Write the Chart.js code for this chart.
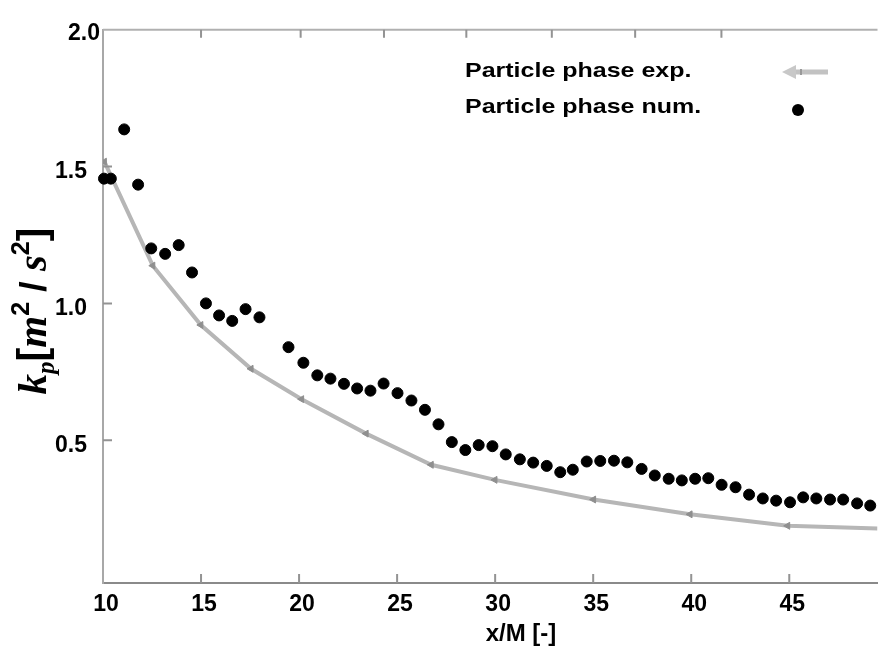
<!DOCTYPE html>
<html>
<head>
<meta charset="utf-8">
<script src="https://cdn.jsdelivr.net/npm/chart.js@4.4.1/dist/chart.umd.min.js"></script>
<style>
  body { margin: 0; background: #fff; }
  canvas { display: block; }
</style>
</head>
<body>
<canvas id="myChart" width="884" height="648"></canvas>
<script>
// particle phase, experiment (grey line with arrow markers)
const expX = [10.07, 12.54, 14.99, 17.55, 20.13, 23.42, 26.74, 29.99, 35.02, 39.94, 44.92, 49.5];
const expY = [1.518, 1.138, 0.921, 0.761, 0.650, 0.524, 0.410, 0.355, 0.283, 0.229, 0.187, 0.177];

// particle phase, numerical (black dots)
const numX = [10.05, 10.40, 11.08, 11.79, 12.46, 13.17, 13.86, 14.54, 15.25, 15.92,
              16.59, 17.27, 17.98, 19.46, 20.22, 20.93, 21.60, 22.29, 22.96, 23.64,
              24.31, 25.02, 25.73, 26.42, 27.11, 27.79, 28.48, 29.16, 29.86, 30.54,
              31.26, 31.94, 32.63, 33.32, 33.96, 34.67, 35.36, 36.06, 36.74, 37.47,
              38.14, 38.85, 39.52, 40.20, 40.87, 41.55, 42.26, 42.95, 43.65, 44.33,
              45.04, 45.71, 46.38, 47.08, 47.75, 48.46, 49.13];
const numY = [1.456, 1.456, 1.636, 1.434, 1.201, 1.181, 1.213, 1.113, 1.000, 0.956,
              0.936, 0.979, 0.949, 0.840, 0.783, 0.737, 0.725, 0.706, 0.689, 0.681,
              0.707, 0.672, 0.645, 0.611, 0.558, 0.493, 0.464, 0.482, 0.478, 0.448,
              0.430, 0.418, 0.406, 0.383, 0.392, 0.422, 0.424, 0.425, 0.419, 0.395,
              0.371, 0.359, 0.353, 0.359, 0.361, 0.337, 0.328, 0.301, 0.287, 0.279,
              0.273, 0.291, 0.287, 0.283, 0.283, 0.269, 0.261];

const xTicks = [10, 15, 20, 25, 30, 35, 40, 45];
const yTicks = [0.5, 1.0, 1.5, 2.0];
// the top frame of the original has its own (slightly off) tick marks
const topTicks = [15.0, 20.08, 24.33, 28.53, 32.89, 37.14, 41.54];
const legendLabels = ['Particle phase exp.', 'Particle phase num.'];

const tickFont = { family: 'Liberation Sans, Arial, sans-serif', size: 23, weight: 'bold' };

// inward tick marks, top frame line, axis titles, legend
const decor = {
    id: 'decor',
    afterDraw(chart) {
        const ctx = chart.ctx;
        const a = chart.chartArea;
        const xs = chart.scales.x, ys = chart.scales.y;
        ctx.save();

        ctx.strokeStyle = '#b0b0b0';
        ctx.lineWidth = 2;
        ctx.beginPath();
        ctx.moveTo(a.left, a.top);
        ctx.lineTo(a.right, a.top);
        ctx.stroke();

        ctx.strokeStyle = '#939393';
        ctx.beginPath();
        xTicks.forEach(v => {
            if (v === 10) return;
            const px = xs.getPixelForValue(v);
            ctx.moveTo(px, a.bottom);
            ctx.lineTo(px, a.bottom - 9);
        });
        topTicks.forEach(v => {
            const px = xs.getPixelForValue(v);
            ctx.moveTo(px, a.top);
            ctx.lineTo(px, a.top + 8);
        });
        yTicks.forEach(v => {
            if (v === 2.0) return;
            const py = ys.getPixelForValue(v);
            ctx.moveTo(a.left, py);
            ctx.lineTo(a.left + 9, py);
        });
        ctx.stroke();

        // "2.0" sits closer to the axis than the other labels in the original
        ctx.fillStyle = '#000';
        ctx.font = 'bold 23px "Liberation Sans", Arial, sans-serif';
        ctx.textAlign = 'right';
        ctx.textBaseline = 'middle';
        ctx.fillText(yTicks[3].toFixed(1), a.left - 3, ys.getPixelForValue(2.0) + 4);

        // x title
        ctx.font = 'bold 24px "Liberation Sans", Arial, sans-serif';
        ctx.textAlign = 'center';
        ctx.textBaseline = 'alphabetic';
        ctx.fillText('x/M [-]', 521, 641);

        // y title  k_p [m^2 / s^2]
        const big = 41, small = 25;
        const bi = s => 'italic bold ' + s + 'px "Liberation Serif", "Times New Roman", serif';
        const bs = s => 'bold ' + s + 'px "Liberation Sans", Arial, sans-serif';
        const parts = [
            { t: 'k', f: bi(big), dy: 0 },
            { t: 'p', f: bi(small), dy: 8 },
            { t: '[', f: bs(big), dy: 0 },
            { t: 'm', f: bi(big), dy: 0 },
            { t: '2', f: bs(small), dy: -17 },
            { t: ' / ', f: bs(big - 4), dy: 0 },
            { t: 's', f: bi(big), dy: 0 },
            { t: '2', f: bs(small), dy: -17 },
            { t: ']', f: bs(big), dy: 0 }
        ];
        let total = 0;
        parts.forEach(p => { ctx.font = p.f; p.w = ctx.measureText(p.t).width; total += p.w; });
        ctx.translate(46, 311);
        ctx.rotate(-Math.PI / 2);
        ctx.textAlign = 'left';
        let cx = -total / 2;
        parts.forEach(p => {
            ctx.font = p.f;
            ctx.fillText(p.t, cx, p.dy);
            cx += p.w;
        });
        ctx.setTransform(1, 0, 0, 1, 0, 0);

        // legend
        ctx.font = 'bold 21px "Liberation Sans", Arial, sans-serif';
        ctx.textAlign = 'left';
        [77, 113].forEach((by, i) => {
            ctx.save();
            ctx.translate(465, by);
            ctx.scale(1.19, 1);
            ctx.fillText(legendLabels[i], 0, 0);
            ctx.restore();
        });
        ctx.strokeStyle = '#c2c2c2';
        ctx.lineWidth = 5;
        ctx.beginPath();
        ctx.moveTo(790, 72);
        ctx.lineTo(828, 72);
        ctx.stroke();
        ctx.fillStyle = '#c8c8c8';
        ctx.beginPath();
        ctx.moveTo(782, 72);
        ctx.lineTo(796, 65);
        ctx.lineTo(796, 79);
        ctx.closePath();
        ctx.fill();
        ctx.fillStyle = '#999';
        ctx.fillRect(800, 69, 2, 6);
        ctx.fillStyle = '#000';
        ctx.beginPath();
        ctx.arc(798, 110, 6, 0, Math.PI * 2);
        ctx.fill();

        ctx.restore();
    }
};

new Chart(document.getElementById('myChart').getContext('2d'), {
    type: 'scatter',
    data: {
        datasets: [
            {
                label: legendLabels[0],
                data: expX.map((x, i) => ({ x: x, y: expY[i] })),
                showLine: true,
                tension: 0,
                borderColor: '#b6b6b6',
                borderWidth: 4,
                pointStyle: 'triangle',
                rotation: 270,
                pointRadius: ctx => ctx.dataIndex === expX.length - 1 ? 0 : 4,
                pointBackgroundColor: '#8f8f8f',
                pointBorderColor: '#8f8f8f',
                pointBorderWidth: 1,
                order: 2
            },
            {
                label: legendLabels[1],
                data: numX.map((x, i) => ({ x: x, y: numY[i] })),
                pointRadius: 5.5,
                pointBackgroundColor: '#000',
                pointBorderColor: '#000',
                pointBorderWidth: 1,
                clip: false,
                order: 1
            }
        ]
    },
    options: {
        responsive: false,
        animation: false,
        layout: { padding: { top: 22, right: 0, left: 0, bottom: 0 } },
        plugins: {
            legend: { display: false },
            tooltip: { enabled: false }
        },
        scales: {
            x: {
                type: 'linear',
                min: 10,
                max: 49.5,
                afterBuildTicks: s => { s.ticks = xTicks.map(v => ({ value: v })); },
                afterFit: s => { s.height = 65; },
                grid: { display: false, drawTicks: false },
                border: { display: true, color: '#8a8a8a', width: 2 },
                ticks: {
                    autoSkip: false,
                    maxRotation: 0,
                    padding: 8,
                    labelOffset: 3,
                    color: '#000',
                    font: tickFont,
                    callback: v => String(v)
                }
            },
            y: {
                type: 'linear',
                min: -0.022,
                max: 2.0,
                afterBuildTicks: s => { s.ticks = yTicks.map(v => ({ value: v })); },
                afterFit: s => { s.width = 103; },
                grid: { display: false, drawTicks: false },
                border: { display: true, color: '#a8a8a8', width: 2 },
                ticks: {
                    autoSkip: false,
                    padding: 16,
                    labelOffset: 5,
                    color: '#000',
                    font: tickFont,
                    callback: v => v === 2 ? '' : v.toFixed(1)
                }
            }
        }
    },
    plugins: [decor]
});
</script>
</body>
</html>
